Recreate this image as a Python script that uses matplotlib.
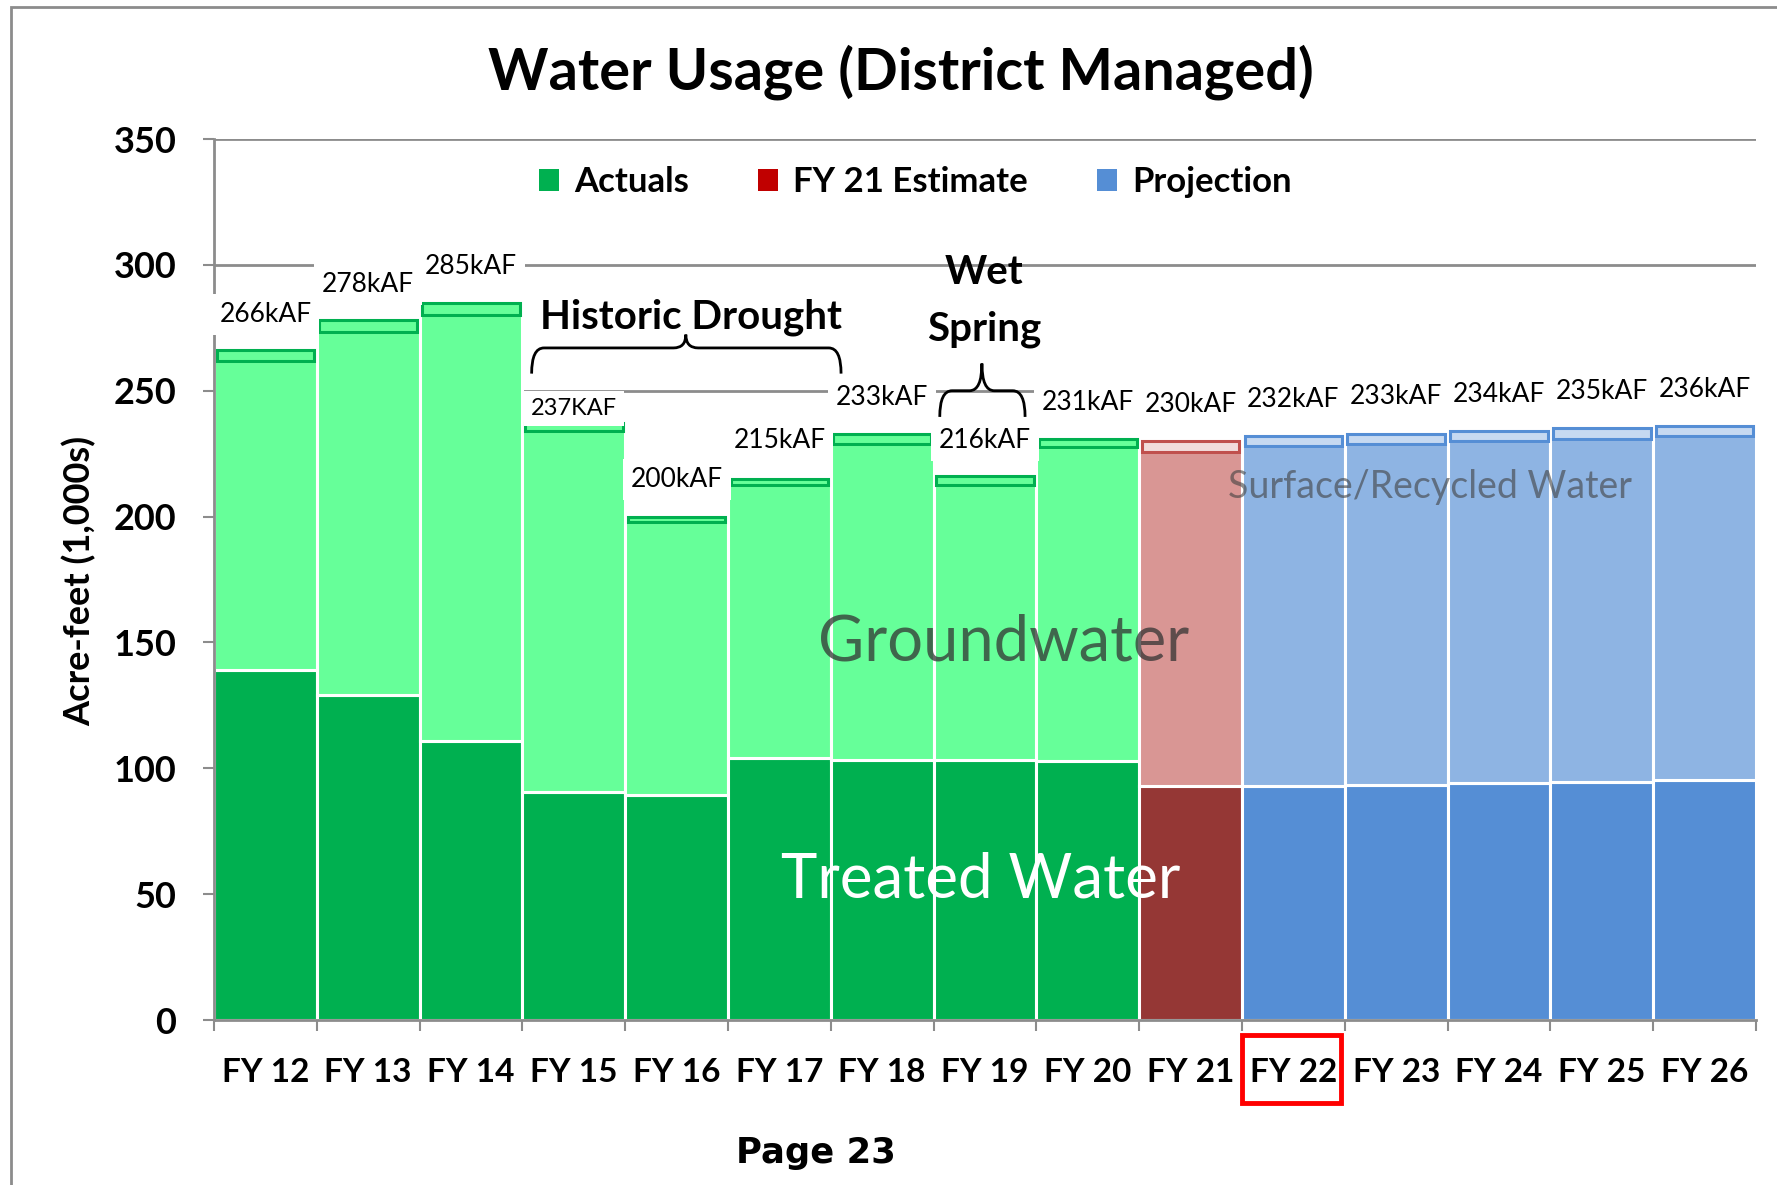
import numpy as np
import matplotlib
matplotlib.use("Agg")
import matplotlib.pyplot as plt
from matplotlib.patches import Patch, Rectangle, PathPatch
from matplotlib.path import Path
import matplotlib.transforms as mtransforms

# ---- data (thousand acre-feet) ----
years = ['FY 12', 'FY 13', 'FY 14', 'FY 15', 'FY 16', 'FY 17', 'FY 18', 'FY 19',
         'FY 20', 'FY 21', 'FY 22', 'FY 23', 'FY 24', 'FY 25', 'FY 26']
status = ['actual'] * 9 + ['estimate'] + ['projection'] * 5
treated = [139, 129, 111, 90.5, 89.5, 104, 103.5, 103.5, 103, 93, 93, 93.5, 94, 94.5, 95.5]
groundwater = [123, 144.5, 169, 143.5, 108.5, 108.5, 125.5, 109, 124.5, 132.5, 135, 135.5, 136, 136.5, 136.5]
surface = [4, 4.5, 5, 3, 2, 2.5, 4, 3.5, 3.5, 4.5, 4, 4, 4, 4, 4]
total_labels = ['266kAF', '278kAF', '285kAF', '237KAF', '200kAF', '215kAF', '233kAF', '216kAF',
                '231kAF', '230kAF', '232kAF', '233kAF', '234kAF', '235kAF', '236kAF']

legend_names = ['Actuals', 'FY 21 Estimate', 'Projection']
legend_colors = ['#00B050', '#C00000', '#558ED5']

palette = {
    'actual':     dict(dark='#00B050', light='#66FF99', top='#66FF99', edge='#00B050'),
    'estimate':   dict(dark='#953735', light='#D99694', top='#F2DCDB', edge='#C0504D'),
    'projection': dict(dark='#558ED5', light='#8EB4E3', top='#C6D9F1', edge='#558ED5'),
}

FONT = ['Lato', 'DejaVu Sans']
GRAY = '#8C8C8C'

fig = plt.figure(figsize=(17.77, 11.85), dpi=100)
ax = fig.add_axes([0.1204, 0.1392, 0.8678, 0.7435])

x = np.arange(len(years))
treated = np.array(treated)
groundwater = np.array(groundwater)
surface = np.array(surface)

for i, st in enumerate(status):
    c = palette[st]
    ax.bar(x[i], treated[i], width=1.0, color=c['dark'], edgecolor='white', linewidth=2.2, zorder=2)
    ax.bar(x[i], groundwater[i], bottom=treated[i], width=1.0, color=c['light'],
           edgecolor='white', linewidth=2.2, zorder=2)
    ax.bar(x[i], surface[i], bottom=treated[i] + groundwater[i], width=0.95, color=c['top'],
           edgecolor=c['edge'], linewidth=2.2, zorder=3)

# total labels above bars
label_pad = [14.3, 14.3, 14.3, 5.8, 14.9, 15.2, 14.3, 14.2, 14.5, 14.6, 14.4, 14.7, 14.6, 14.5, 14.5]
totals = treated + groundwater + surface
for i, lab in enumerate(total_labels):
    ax.text(x[i], totals[i] + label_pad[i], lab, ha='center', va='center',
            fontsize=17 if i == 3 else 19, family=FONT, color='black', zorder=5,
            bbox=dict(boxstyle='square,pad=0.3', fc='white', ec='none'))

# axes styling
ax.set_xlim(-0.5, len(years) - 0.5)
ax.set_ylim(0, 350)
ax.set_yticks(np.arange(0, 351, 50))
ax.yaxis.grid(True, color=GRAY, linewidth=2)
ax.set_axisbelow(True)
for side in ['top', 'right']:
    ax.spines[side].set_visible(False)
for side in ['left', 'bottom']:
    ax.spines[side].set_color(GRAY)
    ax.spines[side].set_linewidth(2)
    ax.spines[side].set_zorder(4)
ax.tick_params(axis='y', length=8, width=1.5, color=GRAY, pad=19)
ax.set_xticks(x)
ax.set_xticklabels(years)
ax.set_xticks(np.arange(-0.5, len(years), 1.0), minor=True)
ax.tick_params(axis='x', which='major', length=0, pad=27)
ax.tick_params(axis='x', which='minor', length=8, width=1.5, color=GRAY)
for t in ax.get_xticklabels():
    t.set_family(FONT)
    t.set_fontweight('bold')
    t.set_fontsize(24)
for t in ax.get_yticklabels():
    t.set_family(FONT)
    t.set_fontweight('bold')
    t.set_fontsize(26)

fig.text(0.0445, 0.51, 'Acre-feet (1,000s)', rotation=90, ha='center', va='center',
         fontsize=26, fontweight='bold', family=FONT)

fig.text(0.507, 0.939, 'Water Usage (District Managed)', ha='center', va='center',
         fontsize=41.5, fontweight='bold', family=FONT)

# legend
handles = [Patch(facecolor=c, edgecolor='none') for c in legend_colors]
leg = ax.legend(handles, legend_names, loc='center', bbox_to_anchor=(0.455, 0.951), ncol=3,
                frameon=False, handlelength=0.55, handleheight=0.6, handletextpad=0.45,
                columnspacing=2.0, prop=dict(family=FONT, weight='bold', size=25))


def brace(x0, x1, xm, y0, y1, y2, r):
    verts = [(x0, y0), (x0, y1), (x0 + r, y1), (xm - r, y1), (xm, y1), (xm, y2),
             (xm, y1), (xm + r, y1), (x1 - r, y1), (x1, y1), (x1, y0)]
    codes = [Path.MOVETO, Path.CURVE3, Path.CURVE3, Path.LINETO, Path.CURVE3, Path.CURVE3,
             Path.CURVE3, Path.CURVE3, Path.LINETO, Path.CURVE3, Path.CURVE3]
    ax.add_patch(PathPatch(Path(verts, codes), fc='none', ec='black', lw=2, zorder=6,
                           clip_on=False))


brace(2.59, 5.60, 4.09, 256.8, 267.0, 272.3, 0.12)
brace(6.56, 7.39, 6.97, 239.6, 250.0, 260.8, 0.12)

ax.text(4.14, 279.3, 'Historic Drought', ha='center', va='center', fontsize=29,
        fontweight='bold', family=FONT, zorder=7)
ax.text(6.99, 297, 'Wet', ha='center', va='center', fontsize=29,
        fontweight='bold', family=FONT, zorder=7)
ax.text(6.99, 274.3, 'Spring', ha='center', va='center', fontsize=29,
        fontweight='bold', family=FONT, zorder=7)

ax.text(7.18, 150, 'Groundwater', ha='center', va='center', fontsize=45.5, family=FONT,
        color='#333333', alpha=0.75, zorder=7)
ax.text(6.96, 55.5, 'Treated Water', ha='center', va='center', fontsize=44.5, family=FONT,
        color='white', zorder=7)
ax.text(11.33, 211.7, 'Surface/Recycled Water', ha='center', va='center', fontsize=27,
        family=FONT, color='#404040', alpha=0.6, zorder=7)

# highlight box around FY 22
trans = mtransforms.blended_transform_factory(ax.transData, ax.transAxes)
ax.add_patch(Rectangle((9.5, -0.094), 0.96, 0.077, transform=trans, fill=False,
                       ec='#FF0000', lw=3.5, clip_on=False, zorder=8))

fig.text(0.459, 0.027, 'Page 23', ha='center', va='center', fontsize=25.5,
         fontweight='bold', family='DejaVu Sans')

# page border (left/top edges visible)
fig.patches.append(Rectangle((0.0062, -0.1), 1.2, 1.094, transform=fig.transFigure,
                             fill=False, ec=GRAY, lw=2))

fig.savefig('out.png', dpi=100)
